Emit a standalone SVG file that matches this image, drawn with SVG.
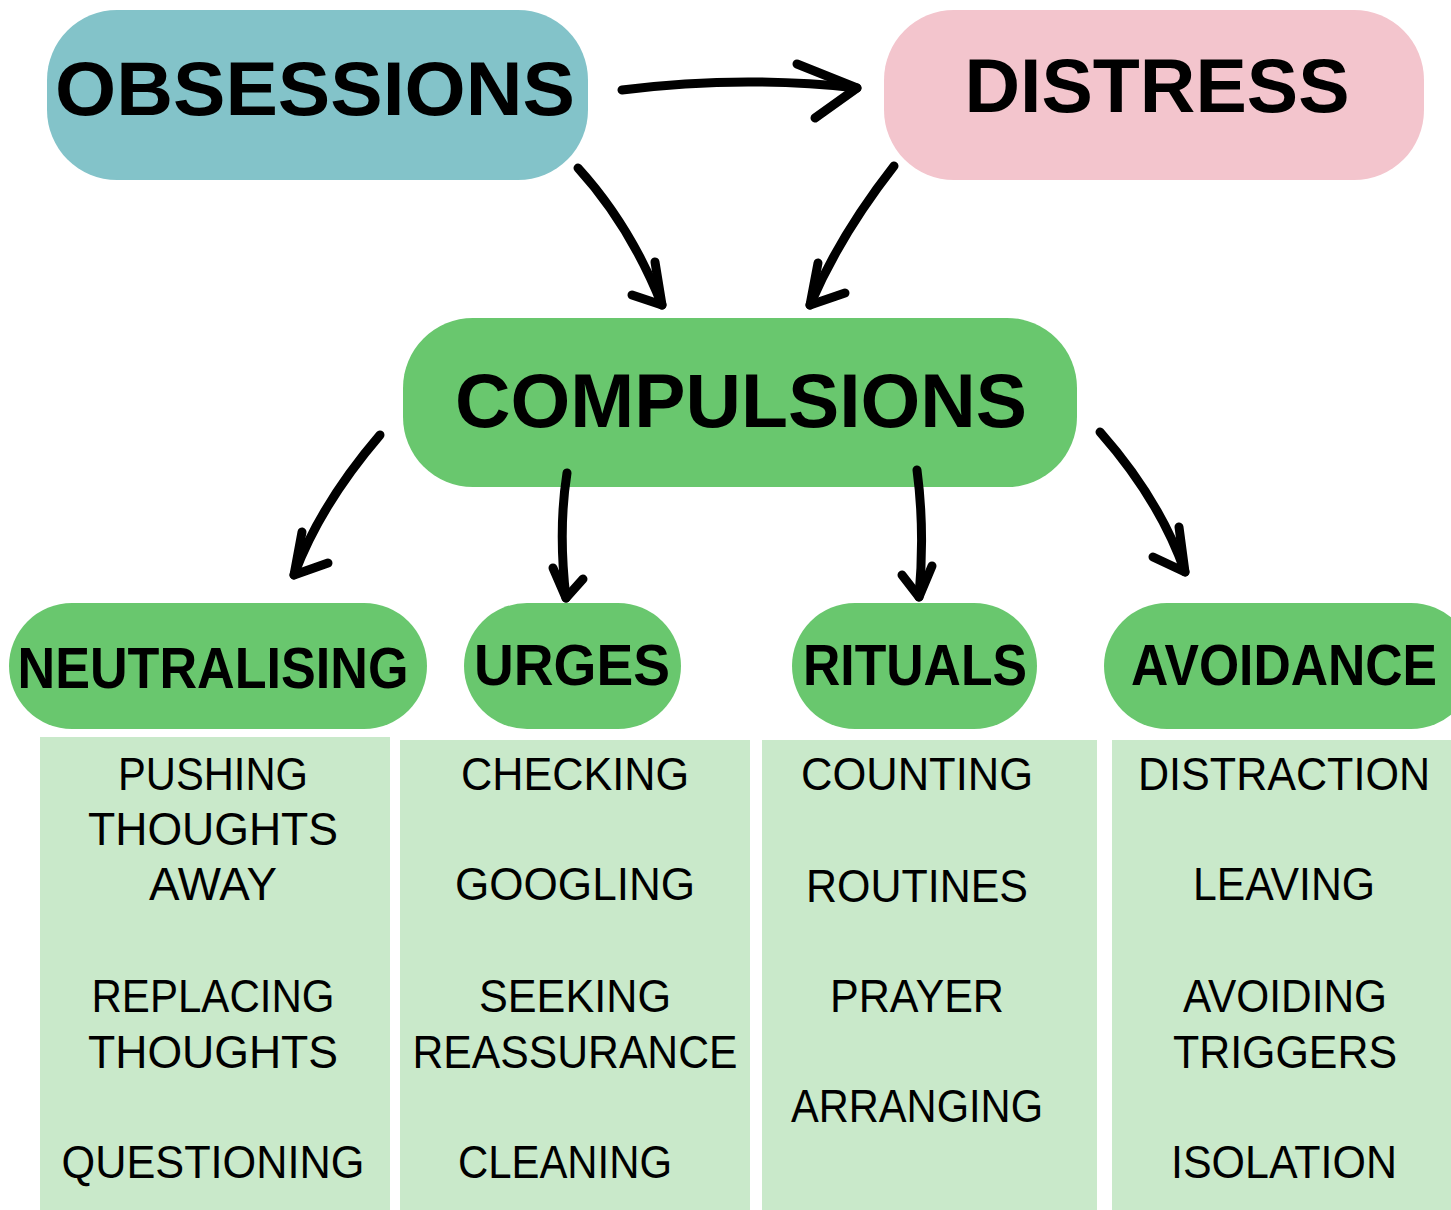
<svg xmlns="http://www.w3.org/2000/svg" width="1451" height="1210" viewBox="0 0 1451 1210">
<style>
.big{font-family:"Liberation Sans",Arial,sans-serif;font-weight:bold;font-size:76px;fill:#000;text-anchor:middle}
.mid{font-family:"Liberation Sans",Arial,sans-serif;font-weight:bold;font-size:58px;fill:#000;text-anchor:middle}
.item{font-family:"Liberation Sans",Arial,sans-serif;font-size:46px;fill:#000;text-anchor:middle}
.conn path{fill:none;stroke:#000;stroke-width:9;stroke-linecap:round;stroke-linejoin:round}
.green{fill:#69C76E}
.list{fill:#C9E9CA}
</style>
<rect width="1451" height="1210" fill="#fff"/>
<g id="obsessions">
<rect x="47" y="10" width="541" height="170" rx="70" fill="#83C3C9"/>
<text class="big" x="315" y="115" textLength="520" lengthAdjust="spacingAndGlyphs">OBSESSIONS</text>
</g>
<g id="distress">
<rect x="884" y="10" width="540" height="170" rx="70" fill="#F3C5CD"/>
<text class="big" x="1157" y="112" textLength="385" lengthAdjust="spacingAndGlyphs">DISTRESS</text>
</g>
<g id="compulsions">
<rect x="403" y="318" width="674" height="169" rx="70" class="green"/>
<text class="big" x="741" y="427" textLength="572" lengthAdjust="spacingAndGlyphs">COMPULSIONS</text>
</g>
<g id="neutralising">
<rect x="9" y="603" width="418" height="126" rx="63" class="green"/>
<text class="mid" x="213" y="688" textLength="391" lengthAdjust="spacingAndGlyphs">NEUTRALISING</text>
<rect x="40" y="737" width="350" height="473" class="list"/>
<text class="item" x="213" y="790" textLength="190" lengthAdjust="spacingAndGlyphs">PUSHING</text>
<text class="item" x="213" y="845" textLength="250" lengthAdjust="spacingAndGlyphs">THOUGHTS</text>
<text class="item" x="213" y="900" textLength="128" lengthAdjust="spacingAndGlyphs">AWAY</text>
<text class="item" x="213" y="1012" textLength="243" lengthAdjust="spacingAndGlyphs">REPLACING</text>
<text class="item" x="213" y="1068" textLength="250" lengthAdjust="spacingAndGlyphs">THOUGHTS</text>
<text class="item" x="213" y="1178" textLength="303" lengthAdjust="spacingAndGlyphs">QUESTIONING</text>
</g>
<g id="urges">
<rect x="464" y="603" width="217" height="126" rx="63" class="green"/>
<text class="mid" x="572" y="685" textLength="196" lengthAdjust="spacingAndGlyphs">URGES</text>
<rect x="400" y="740" width="350" height="470" class="list"/>
<text class="item" x="575" y="790" textLength="228" lengthAdjust="spacingAndGlyphs">CHECKING</text>
<text class="item" x="575" y="900" textLength="240" lengthAdjust="spacingAndGlyphs">GOOGLING</text>
<text class="item" x="575" y="1012" textLength="192" lengthAdjust="spacingAndGlyphs">SEEKING</text>
<text class="item" x="575" y="1068" textLength="325" lengthAdjust="spacingAndGlyphs">REASSURANCE</text>
<text class="item" x="565" y="1178" textLength="214" lengthAdjust="spacingAndGlyphs">CLEANING</text>
</g>
<g id="rituals">
<rect x="792" y="603" width="245" height="126" rx="63" class="green"/>
<text class="mid" x="915" y="685" textLength="224" lengthAdjust="spacingAndGlyphs">RITUALS</text>
<rect x="762" y="740" width="335" height="470" class="list"/>
<text class="item" x="917" y="790" textLength="232" lengthAdjust="spacingAndGlyphs">COUNTING</text>
<text class="item" x="917" y="902" textLength="222" lengthAdjust="spacingAndGlyphs">ROUTINES</text>
<text class="item" x="917" y="1012" textLength="174" lengthAdjust="spacingAndGlyphs">PRAYER</text>
<text class="item" x="917" y="1122" textLength="252" lengthAdjust="spacingAndGlyphs">ARRANGING</text>
</g>
<g id="avoidance">
<rect x="1104" y="603" width="370" height="126" rx="63" class="green"/>
<text class="mid" x="1284" y="685" textLength="306" lengthAdjust="spacingAndGlyphs">AVOIDANCE</text>
<rect x="1112" y="740" width="339" height="470" class="list"/>
<text class="item" x="1284" y="790" textLength="292" lengthAdjust="spacingAndGlyphs">DISTRACTION</text>
<text class="item" x="1284" y="900" textLength="182" lengthAdjust="spacingAndGlyphs">LEAVING</text>
<text class="item" x="1285" y="1012" textLength="204" lengthAdjust="spacingAndGlyphs">AVOIDING</text>
<text class="item" x="1285" y="1068" textLength="224" lengthAdjust="spacingAndGlyphs">TRIGGERS</text>
<text class="item" x="1284" y="1178" textLength="226" lengthAdjust="spacingAndGlyphs">ISOLATION</text>
</g>
<g class="conn" id="connectors">
<path d="M622,90 Q740,75 857,88"/>
<path d="M797,64 L857,88 L815,118"/>
<path d="M578,168 Q630,225 662,305"/>
<path d="M655,262 L662,305 L632,295"/>
<path d="M894,166 Q840,235 810,305"/>
<path d="M818,263 L810,305 L845,293"/>
<path d="M380,435 Q320,505 294,575"/>
<path d="M302,532 L294,575 L328,563"/>
<path d="M567,473 Q558,530 566,598"/>
<path d="M553,568 L566,598 L583,579"/>
<path d="M917,470 Q925,530 919,597"/>
<path d="M902,575 L919,597 L932,566"/>
<path d="M1100,432 Q1160,500 1185,572"/>
<path d="M1179,527 L1185,572 L1153,557"/>
</g>
</svg>
